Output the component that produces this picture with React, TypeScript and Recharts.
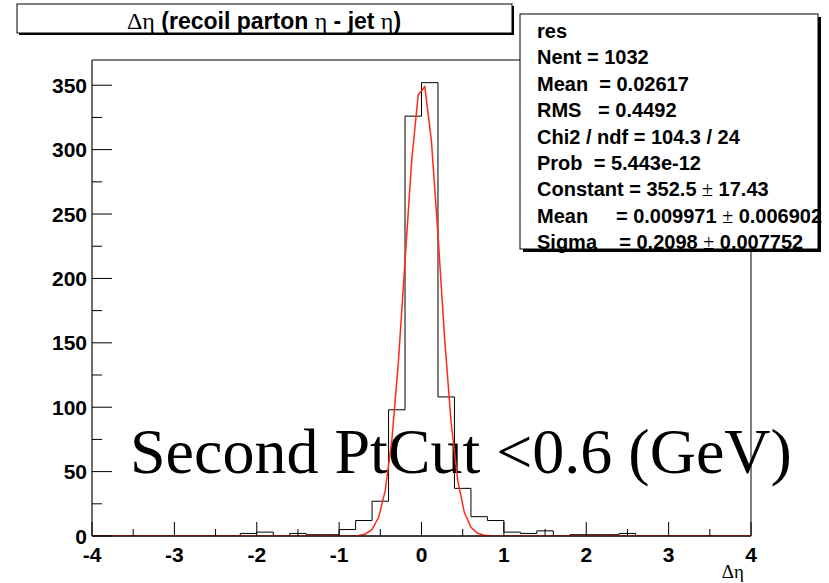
import React from "react";
import { ComposedChart, Line, XAxis, YAxis, ReferenceArea } from "recharts";

// histogram bin edges (41) and counts (40 bins of 0.2)
const binEdges = [
  -4, -3.8, -3.6, -3.4, -3.2, -3, -2.8, -2.6, -2.4, -2.2, -2, -1.8, -1.6, -1.4, -1.2, -1,
  -0.8, -0.6, -0.4, -0.2, 0, 0.2, 0.4, 0.6, 0.8, 1, 1.2, 1.4, 1.6, 1.8, 2, 2.2, 2.4, 2.6,
  2.8, 3, 3.2, 3.4, 3.6, 3.8, 4,
];
const binCounts = [
  0, 0, 0, 0, 0, 0, 0, 0, 0, 2, 3, 0, 2, 1, 1, 5, 12, 27, 98, 326,
  352, 108, 37, 15, 12, 3, 2, 4, 0, 1, 1, 1, 2, 0, 0, 0, 0, 0, 0, 0,
];

// gaussian fit curve
const fitX = [
  -4, -0.92, -0.84, -0.76, -0.68, -0.6, -0.52, -0.44, -0.36, -0.28, -0.2, -0.12, -0.04,
  0.04, 0.12, 0.2, 0.28, 0.36, 0.44, 0.52, 0.6, 0.68, 0.76, 0.84, 0.92, 4,
];
const fitY = [
  0, 0, 0.1, 0.4, 1.6, 5.1, 14.5, 35.4, 74.4, 135.6, 213.6, 290.9, 342.6,
  348.9, 307.2, 234, 154, 87.7, 43.2, 18.4, 6.8, 2.1, 0.6, 0.15, 0, 0,
];

const xTicks = [-4, -3.5, -3, -2.5, -2, -1.5, -1, -0.5, 0, 0.5, 1, 1.5, 2, 2.5, 3, 3.5, 4];
const yTicks = [0, 25, 50, 75, 100, 125, 150, 175, 200, 225, 250, 275, 300, 325, 350];

const statsLines = [
  "res",
  "Nent = 1032",
  "Mean  = 0.02617",
  "RMS   = 0.4492",
  "Chi2 / ndf = 104.3 / 24",
  "Prob  = 5.443e-12",
  "Constant = 352.5 ± 17.43",
  "Mean     = 0.009971 ± 0.006902",
  "Sigma    = 0.2098 ± 0.007752",
];

const W = 829;
const H = 583;
const Y_MAX = 369.6;
const sans = "'Liberation Sans', Arial, sans-serif";
const serif = "'Liberation Serif', 'Times New Roman', serif";

const histData = binEdges.map((x, i) => ({ x, n: binCounts[Math.min(i, binCounts.length - 1)] }));
const fitData = fitX.map((x, i) => ({ x, f: fitY[i] }));

const XTick = (props: any) => {
  const { x, y, payload } = props;
  const v = payload.value as number;
  const major = Number.isInteger(v);
  return (
    <g>
      <line x1={x} y1={y} x2={x} y2={y - (major ? 14 : 7)} stroke="#000" strokeWidth={1} />
      {major && (
        <text x={x} y={y + 26} textAnchor="middle" fontFamily={sans} fontWeight="bold" fontSize={21} fill="#000">
          {v}
        </text>
      )}
    </g>
  );
};

const YTick = (props: any) => {
  const { x, y, payload } = props;
  const v = payload.value as number;
  const major = v % 50 === 0;
  return (
    <g>
      <line x1={x} y1={y} x2={x + (major ? 20 : 10)} y2={y} stroke="#000" strokeWidth={1} />
      {major && (
        <text x={x - 5} y={y + 7.5} textAnchor="end" fontFamily={sans} fontWeight="bold" fontSize={21} fill="#000">
          {v}
        </text>
      )}
    </g>
  );
};

function StatLine({ text, y }: { text: string; y: number }) {
  const parts = text.split("±");
  return (
    <text x={537} y={y} fontFamily={sans} fontWeight="bold" fontSize={20} fill="#000" xmlSpace="preserve" style={{ whiteSpace: "pre" }}>
      {parts.map((p, i) => (
        <React.Fragment key={i}>
          {i > 0 && (
            <tspan fontFamily={serif} fontWeight="normal" fontSize={20}>
              ±
            </tspan>
          )}
          <tspan>{p}</tspan>
        </React.Fragment>
      ))}
    </text>
  );
}

export default function App() {
  return (
    <div style={{ position: "absolute", left: 0, top: 0, width: W, height: H, background: "#fff" }}>
      <svg width={W} height={H} style={{ position: "absolute", left: 0, top: 0 }}>
        <text x={130} y={473} fontFamily={serif} fontSize={64} fill="#000">
          Second PtCut &lt;0.6 (GeV)
        </text>
      </svg>
      <div style={{ position: "absolute", left: 0, top: 0 }}>
        <ComposedChart width={W} height={H} margin={{ top: 60, right: 78, bottom: 0, left: 0 }}>
          <XAxis
            type="number"
            dataKey="x"
            domain={[-4, 4]}
            ticks={xTicks}
            interval={0}
            allowDataOverflow
            height={47}
            tickSize={0}
            tickMargin={0}
            tickLine={false}
            axisLine={{ stroke: "#000" }}
            tick={XTick}
          />
          <YAxis
            type="number"
            domain={[0, Y_MAX]}
            ticks={yTicks}
            interval={0}
            allowDataOverflow
            width={92}
            tickSize={0}
            tickMargin={0}
            tickLine={false}
            axisLine={{ stroke: "#666", strokeWidth: 1.5 }}
            tick={YTick}
          />
          <ReferenceArea x1={-4} x2={4} y1={0} y2={Y_MAX} fill="none" stroke="#000" strokeWidth={1} />
          <Line
            data={histData}
            dataKey="n"
            type="stepAfter"
            stroke="#000"
            strokeWidth={1}
            dot={false}
            isAnimationActive={false}
          />
          <Line
            data={fitData}
            dataKey="f"
            type="linear"
            stroke="#ff2a1a"
            strokeWidth={1.5}
            dot={false}
            isAnimationActive={false}
          />
        </ComposedChart>
      </div>
      <svg width={W} height={H} style={{ position: "absolute", left: 0, top: 0, pointerEvents: "none" }}>
        {/* title box */}
        <rect x={19} y={6} width={495} height={29} fill="#000" />
        <rect x={17} y={4} width={495} height={29} fill="#fff" stroke="#000" strokeWidth={1} />
        <text x={264} y={29} textAnchor="middle" fontFamily={sans} fontWeight="bold" fontSize={23} fill="#000" style={{ whiteSpace: "pre" }}>
          <tspan fontFamily={serif} fontWeight="normal" fontSize={24}>Δη</tspan>
          <tspan> (recoil parton </tspan>
          <tspan fontFamily={serif} fontWeight="normal" fontSize={24}>η</tspan>
          <tspan> - jet </tspan>
          <tspan fontFamily={serif} fontWeight="normal" fontSize={24}>η</tspan>
          <tspan>)</tspan>
        </text>
        {/* stats box */}
        <rect x={523} y={17} width={298} height={235} fill="#000" />
        <rect x={520} y={14} width={298} height={235} fill="#fff" stroke="#000" strokeWidth={1} />
        {statsLines.map((t, i) => (
          <StatLine key={i} text={t} y={38 + i * 26.4} />
        ))}
        {/* x axis title */}
        <text x={744} y={578} textAnchor="end" fontFamily={serif} fontSize={19} fill="#000">
          Δη
        </text>
      </svg>
    </div>
  );
}
